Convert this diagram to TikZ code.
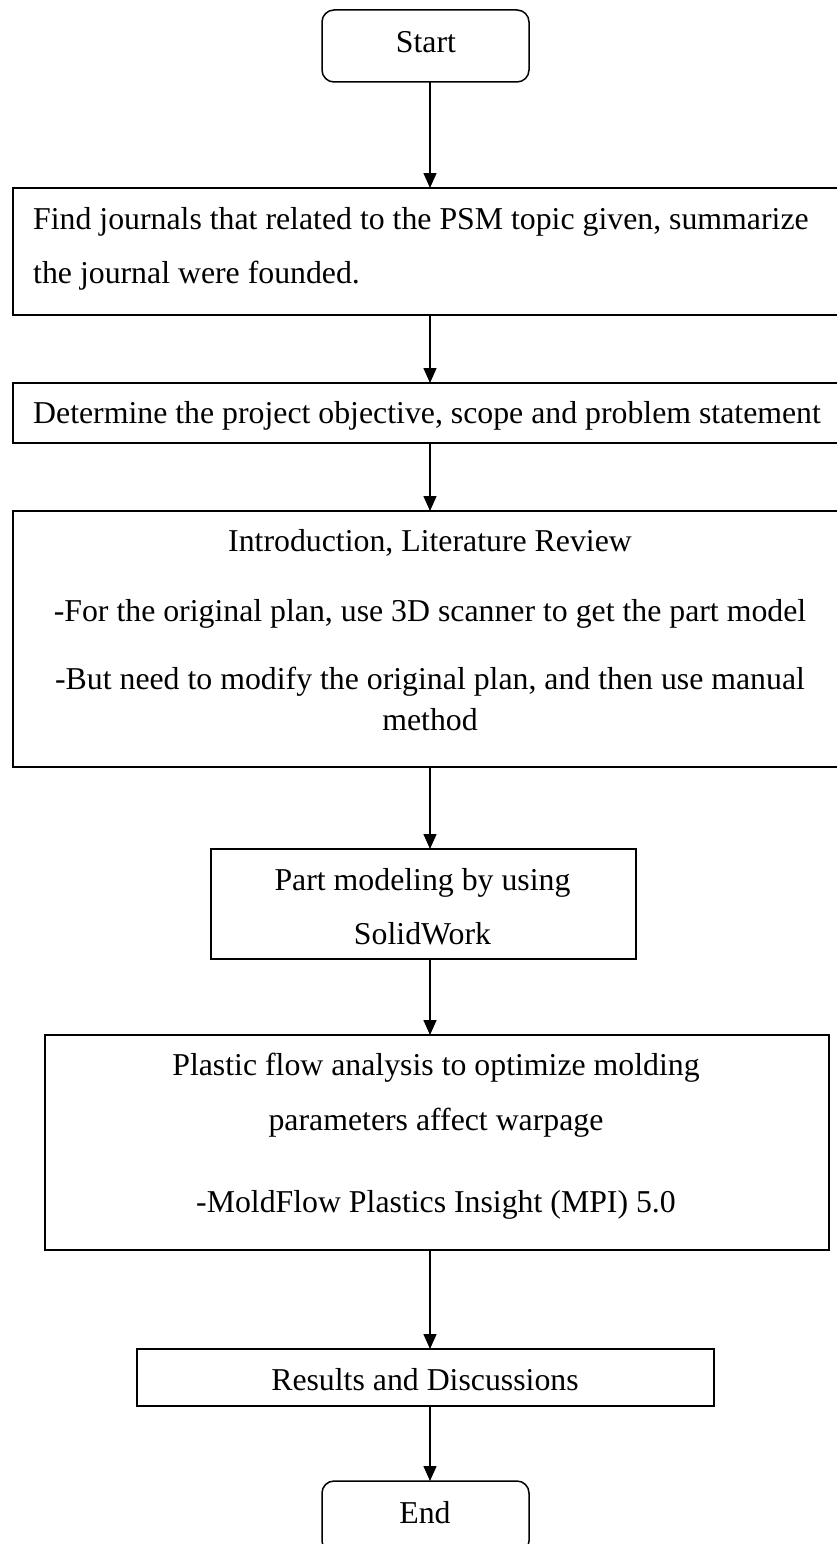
\documentclass[tikz,border=0pt]{standalone}
\usepackage{fontspec}
\setmainfont{Liberation Serif}
\usetikzlibrary{arrows.meta}
\begin{document}
\begin{tikzpicture}[x=1pt,y=-1pt,
  box/.style={draw,line width=1.5pt,inner sep=0pt,outer sep=0pt},
  term/.style={box,rounded corners=12pt},
  txt/.style={font=\fontsize{31.8}{38}\selectfont,inner sep=0pt,anchor=base},
  arr/.style={line width=1.5pt,-{Triangle[length=15pt,width=13pt]}}]
\path[use as bounding box] (0,0) rectangle (837,1544);
\clip (0,0) rectangle (837,1544);
\fill[white] (0,0) rectangle (837,1544);
\coordinate (ax) at (430,0);
% boxes
\node[term,minimum width=207pt,minimum height=72pt] (start) at (425.5,46) {};
\node[box,minimum width=837pt,minimum height=127pt] (find) at (431.5,251.5) {};
\node[box,minimum width=837pt,minimum height=60pt] (det) at (431.5,413) {};
\node[box,minimum width=837pt,minimum height=256pt] (intro) at (431.5,639) {};
\node[box,minimum width=425pt,minimum height=110pt] (part) at (423.5,904) {};
\node[box,minimum width=784pt,minimum height=215pt] (plastic) at (437,1142.5) {};
\node[box,minimum width=577pt,minimum height=57pt] (results) at (425.5,1377.5) {};
\node[term,minimum width=207pt,minimum height=72pt] (end) at (425.5,1517) {};
% texts
\node[txt] (tstart) at (426,53) {Start};
\node[txt,anchor=base west] (tfind1) at (33,229) {Find journals that related to the PSM topic given, summarize};
\node[txt,anchor=base west] (tfind2) at (33,283) {the journal were founded.};
\node[txt,anchor=base west] (tdet) at (33,423) {Determine the project objective, scope and problem statement};
\node[txt] (tintro1) at (430,551) {Introduction, Literature Review};
\node[txt] (tintro2) at (430,621) {-For the original plan, use 3D scanner to get the part model};
\node[txt] (tintro3) at (430,689) {-But need to modify the original plan, and then use manual};
\node[txt] (tintro4) at (430,730) {method};
\node[txt] (tpart1) at (422.5,890) {Part modeling by using};
\node[txt] (tpart2) at (422.5,944) {SolidWork};
\node[txt] (tplas1) at (436,1075) {Plastic flow analysis to optimize molding};
\node[txt] (tplas2) at (436,1130) {parameters affect warpage};
\node[txt] (tplas3) at (436,1212) {-MoldFlow Plastics Insight (MPI) 5.0};
\node[txt] (tres) at (425,1390) {Results and Discussions};
\node[txt] (tend) at (425,1523) {End};
% arrows
\draw[arr] (start.south -| ax) -- (find.north -| ax);
\draw[arr] (find.south -| ax) -- (det.north -| ax);
\draw[arr] (det.south -| ax) -- (intro.north -| ax);
\draw[arr] (intro.south -| ax) -- (part.north -| ax);
\draw[arr] (part.south -| ax) -- (plastic.north -| ax);
\draw[arr] (plastic.south -| ax) -- (results.north -| ax);
\draw[arr] (results.south -| ax) -- (end.north -| ax);
\end{tikzpicture}
\end{document}
